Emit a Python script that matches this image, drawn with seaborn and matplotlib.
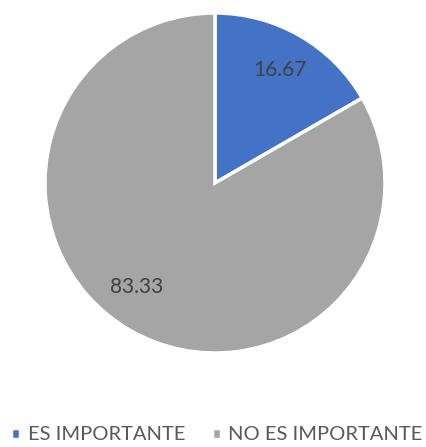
import matplotlib
matplotlib.use("Agg")
import matplotlib.pyplot as plt
import seaborn as sns
import numpy as np

categories = ["ES IMPORTANTE", "NO ES IMPORTANTE"]
values = [16.67, 83.33]
colors = ["#4472C4", "#A5A5A5"]

sns.set_theme(style="white")
plt.rcParams['font.family'] = ['Lato', 'DejaVu Sans']

W, H = 427, 447
fig = plt.figure(figsize=(W / 100, H / 100), dpi=100)
cx, cy, r = 215, 183, 170
ax = fig.add_axes([(cx - r) / W, (H - cy - r) / H, 2 * r / W, 2 * r / H])

wedges, texts, autotexts = ax.pie(
    values, colors=colors, startangle=90, counterclock=False,
    autopct=lambda p: f"{p:.2f}", pctdistance=0.765, radius=1,
    wedgeprops=dict(edgecolor="white", linewidth=2.5),
    textprops=dict(color="#404040", fontsize=15),
)
# Excel nudges the big slice label a bit off its mid angle
ang = np.deg2rad(-127)
autotexts[1].set_position((0.765 * np.cos(ang), 0.765 * np.sin(ang)))

ax.set_xlim(-1, 1)
ax.set_ylim(-1, 1)
ax.set_aspect("equal")
ax.axis("off")

fig.legend(wedges, categories, loc="center", bbox_to_anchor=(0.508, 1 - 435 / H),
           ncol=2, frameon=False, fontsize=14.5, handlelength=0.45, handleheight=0.45,
           handletextpad=0.35, columnspacing=1.35, labelcolor="#595959",
           borderpad=0, borderaxespad=0)

fig.savefig("out.png", dpi=100)
